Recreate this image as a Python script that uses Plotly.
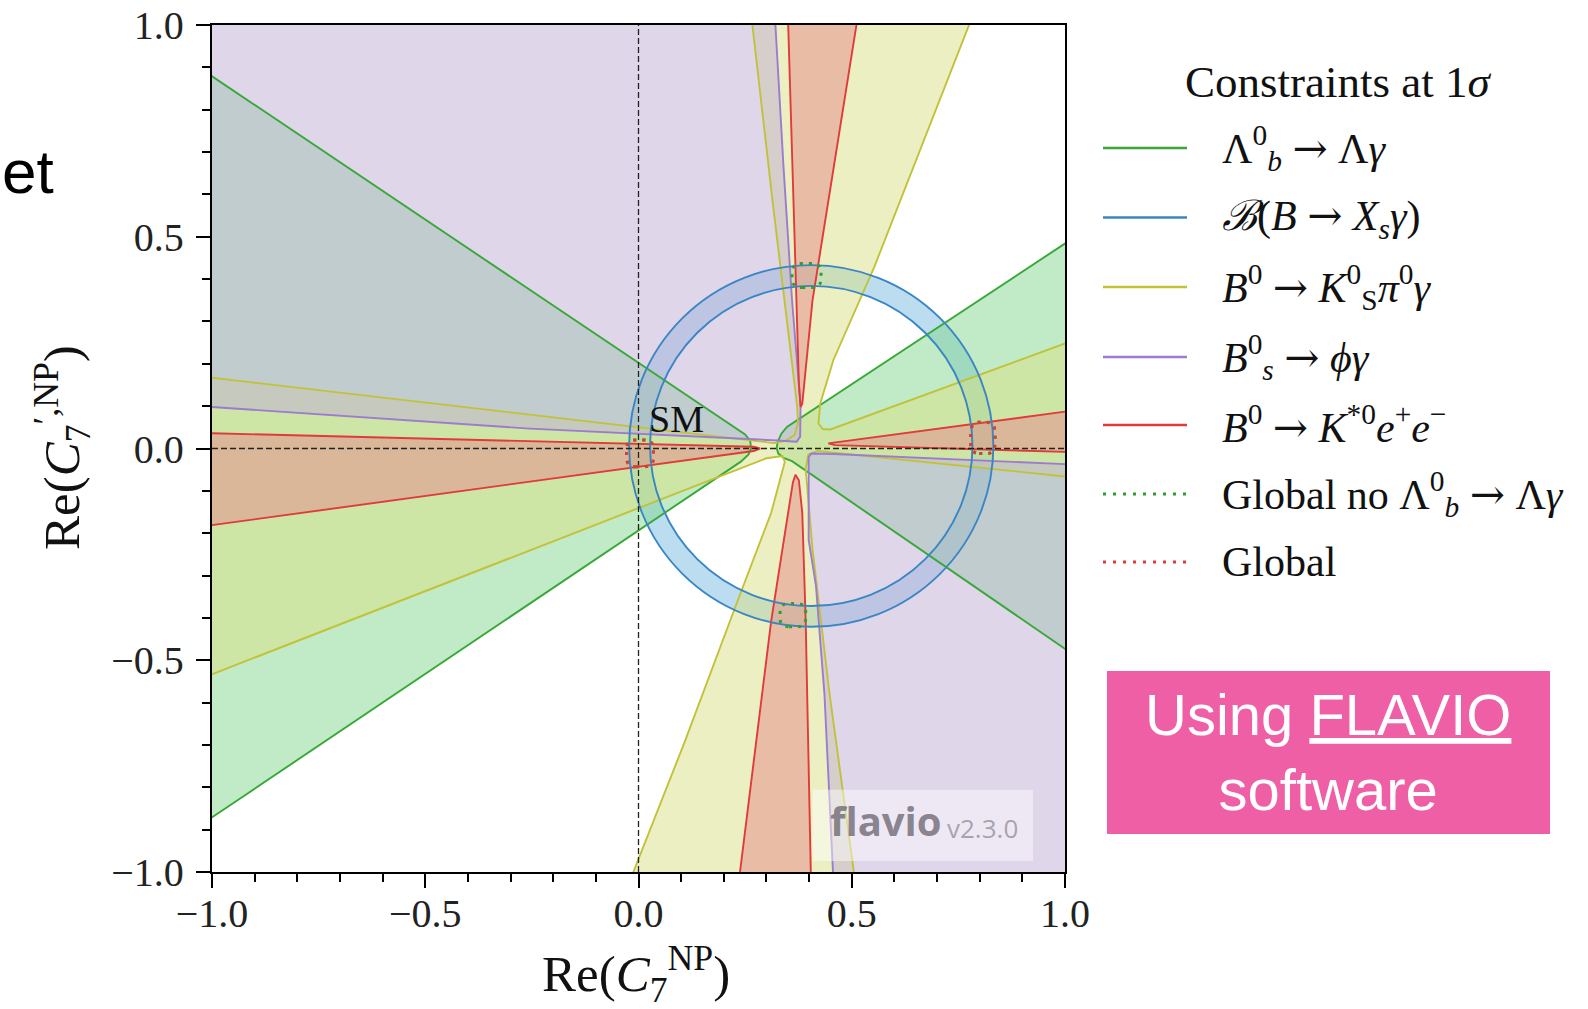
import plotly.graph_objects as go

# ---------------------------------------------------------------- ticks
MAJOR_TICKS = [-1.0, -0.5, 0.0, 0.5, 1.0]
MAJOR_TICK_TEXT = ["−1.0", "−0.5", "0.0", "0.5", "1.0"]
MINOR_TICKS = [-0.9, -0.8, -0.7, -0.6, -0.4, -0.3, -0.2, -0.1,
               0.1, 0.2, 0.3, 0.4, 0.6, 0.7, 0.8, 0.9]

# ------------------------------------------------ 1 sigma contour outlines
# Lambda_b -> Lambda gamma : two cones
LB_LEFT_X = [-1.2, -1.0, 0.25, 0.262, 0.264, 0.258, 0.24, -1.0, -1.2]
LB_LEFT_Y = [0.879, 0.879, 0.033, 0.018, 0.0, -0.014, -0.031, -0.871, -0.871]
LB_RIGHT_X = [1.2, 1.0, 0.348, 0.335, 0.326, 0.324, 0.328, 0.34, 0.36, 1.0, 1.2]
LB_RIGHT_Y = [0.484, 0.484, 0.051, 0.035, 0.015, 0.0, -0.012, -0.022, -0.03, -0.473, -0.473]

# B -> X_s gamma : ring (centre, inner radius, outer radius)
XS_CENTER_X = 0.405
XS_CENTER_Y = 0.006
XS_R_INNER = 0.378
XS_R_OUTER = 0.427

# B0 -> K_S pi0 gamma : four-armed cross
KPI_X = [0.25, 0.267, 0.314, 0.36, 0.372, 0.374, 0.366, 0.345, 0.317, -1.0, -1.2,
         -1.2, -1.0, 0.30, 0.338, 0.343, 0.311, 0.230, 0.109, -0.012, -0.05,
         0.55, 0.505, 0.448, 0.408, 0.392, 0.398, 0.42, 1.0, 1.2,
         1.2, 1.0, 0.45, 0.432, 0.422, 0.426, 0.457, 0.553, 0.775, 0.8]
KPI_Y = [1.2, 1.0, 0.587, 0.19, 0.10, 0.06, 0.032, 0.018, 0.013, 0.167, 0.167,
         -0.533, -0.533, -0.023, -0.018, -0.032, -0.152, -0.366, -0.691, -1.0, -1.2,
         -1.2, -1.0, -0.58, -0.237, -0.049, -0.014, -0.006, -0.066, -0.066,
         0.248, 0.248, 0.045, 0.046, 0.059, 0.106, 0.209, 0.429, 1.0, 1.2]

# Bs -> phi gamma : two wedges
PHI_UL_X = [0.33, 0.321, 0.340, 0.360, 0.380, 0.379, 0.371, 0.325, -0.2545, -1.0, -1.2, -1.2]
PHI_UL_Y = [1.2, 1.0, 0.665, 0.35, 0.102, 0.028, 0.016, 0.019, 0.047, 0.098, 0.098, 1.2]
PHI_LR_X = [0.46, 0.456, 0.436, 0.416, 0.399, 0.399, 0.405, 0.457, 1.0, 1.2, 1.2]
PHI_LR_Y = [-1.2, -1.0, -0.58, -0.323, -0.216, -0.02, -0.012, -0.013, -0.037, -0.037, -1.2]

# B0 -> K*0 e+ e- : four thin wedges
KEE_TOP_X = [0.34, 0.351, 0.368, 0.376, 0.380, 0.384, 0.408, 0.511, 0.52]
KEE_TOP_Y = [1.2, 1.0, 0.429, 0.154, 0.098, 0.106, 0.35, 1.0, 1.2]
KEE_BOT_X = [0.23, 0.238, 0.311, 0.352, 0.362, 0.368, 0.376, 0.384, 0.392, 0.404, 0.41]
KEE_BOT_Y = [-1.2, -1.0, -0.408, -0.152, -0.08, -0.062, -0.075, -0.152, -0.408, -1.0, -1.2]
KEE_LEFT_X = [-1.2, -1.0, 0.27, 0.285, 0.27, -1.0, -1.2]
KEE_LEFT_Y = [0.036, 0.036, 0.004, 0.0, -0.006, -0.181, -0.181]
KEE_RIGHT_X = [0.445, 1.0, 1.2, 1.2, 1.0, 0.46]
KEE_RIGHT_Y = [0.012, 0.087, 0.087, -0.008, -0.008, 0.008]

# global fits: boxes (x0, x1, y0, y1)
GLOBAL_NO_LB_BOXES = [(-0.028, 0.035, -0.043, 0.020),
                      (0.360, 0.428, 0.380, 0.437),
                      (0.332, 0.392, -0.421, -0.366),
                      (0.779, 0.836, -0.012, 0.062)]
GLOBAL_BOXES = [(-0.028, 0.035, -0.043, 0.020),
                (0.779, 0.836, -0.012, 0.062)]

# legend
ARROW = '<span style="font-family:DejaVu Serif">→</span>'
LEGEND_LABELS = [
    f"Λ<sup>0</sup><sub><i>b</i></sub> {ARROW} Λ<i>γ</i>",
    f"<i>ℬ</i>(<i>B</i> {ARROW} <i>X<sub>s</sub>γ</i>)",
    f"<i>B</i><sup>0</sup> {ARROW} <i>K</i><sup>0</sup><sub>S</sub><i>π</i><sup>0</sup><i>γ</i>",
    f"<i>B</i><sup>0</sup><sub><i>s</i></sub> {ARROW} <i>ϕγ</i>",
    f"<i>B</i><sup>0</sup> {ARROW} <i>K</i><sup>*0</sup><i>e</i><sup>+</sup><i>e</i><sup>−</sup>",
    f"Global no Λ<sup>0</sup><sub><i>b</i></sub> {ARROW} Λ<i>γ</i>",
    "Global",
]

# ---------------------------------------------------------------- styles
C_GREEN, F_GREEN = "#38a838", "rgba(129,215,141,0.5)"
C_BLUE, F_BLUE = "#3a86c4", "rgba(121,185,225,0.5)"
C_YELLOW, F_YELLOW = "#c2c23a", "rgba(217,223,131,0.5)"
C_PURPLE, F_PURPLE = "#9c7bd0", "rgba(191,173,213,0.5)"
C_RED, F_RED = "#e03a3a", "rgba(230,137,139,0.5)"
LEGEND_COLORS = [C_GREEN, C_BLUE, C_YELLOW, C_PURPLE, C_RED, "#2ca02c", "#e03a3a"]
LEGEND_DASH = ["solid"] * 5 + ["3px,7px", "3px,7px"]

SERIF = "Liberation Serif, DejaVu Serif, serif"
SANS = "Liberation Sans, Arial, sans-serif"

W, H = 1588, 1009
ML, MR, MT, MB = 212, 523, 25, 137
PW = W - ML - MR
PH = H - MT - MB


def pxx(xp):
    return (xp - ML) / PW


def pxy(yp):
    return (H - MB - yp) / PH


fig = go.Figure()

regions = [
    (C_GREEN, F_GREEN, [(LB_LEFT_X, LB_LEFT_Y), (LB_RIGHT_X, LB_RIGHT_Y)]),
    (C_YELLOW, F_YELLOW, [(KPI_X, KPI_Y)]),
    (C_PURPLE, F_PURPLE, [(PHI_UL_X, PHI_UL_Y), (PHI_LR_X, PHI_LR_Y)]),
    (C_RED, F_RED, [(KEE_TOP_X, KEE_TOP_Y), (KEE_BOT_X, KEE_BOT_Y),
                    (KEE_LEFT_X, KEE_LEFT_Y), (KEE_RIGHT_X, KEE_RIGHT_Y)]),
]
# filled areas first
for line_c, fill_c, pieces in regions:
    for xs, ys in pieces:
        fig.add_trace(go.Scatter(x=xs, y=ys, mode="lines", fill="toself",
                                 fillcolor=fill_c, line=dict(width=0),
                                 hoverinfo="skip", showlegend=False))
# contour lines on top
for line_c, fill_c, pieces in regions:
    for xs, ys in pieces:
        fig.add_trace(go.Scatter(x=list(xs) + [xs[0]], y=list(ys) + [ys[0]],
                                 mode="lines", line=dict(color=line_c, width=1.9),
                                 hoverinfo="skip", showlegend=False))

shapes = []
# ring band (filled by a thick stroke at the mid radius)
r_mid = (XS_R_INNER + XS_R_OUTER) / 2
band_px = (XS_R_OUTER - XS_R_INNER) * PW / 2.0
shapes.append(dict(type="circle", xref="x", yref="y", layer="below",
                   x0=XS_CENTER_X - r_mid, x1=XS_CENTER_X + r_mid,
                   y0=XS_CENTER_Y - r_mid, y1=XS_CENTER_Y + r_mid,
                   line=dict(color=F_BLUE, width=band_px)))
for r in (XS_R_INNER, XS_R_OUTER):
    shapes.append(dict(type="circle", xref="x", yref="y", layer="above",
                       x0=XS_CENTER_X - r, x1=XS_CENTER_X + r,
                       y0=XS_CENTER_Y - r, y1=XS_CENTER_Y + r,
                       line=dict(color=C_BLUE, width=1.9)))

# SM dashed axes
shapes.append(dict(type="line", xref="x", yref="y", layer="above",
                   x0=0, x1=0, y0=-1, y1=1,
                   line=dict(color="#222", width=1.3, dash="6px,3px")))
shapes.append(dict(type="line", xref="x", yref="y", layer="above",
                   x0=-1, x1=1, y0=0, y1=0,
                   line=dict(color="#222", width=1.3, dash="6px,3px")))


def rounded_box(x0, x1, y0, y1):
    cx = (x1 - x0) * 0.35
    cy = (y1 - y0) * 0.35
    return (f"M {x0 + cx},{y0} L {x1 - cx},{y0} Q {x1},{y0} {x1},{y0 + cy} "
            f"L {x1},{y1 - cy} Q {x1},{y1} {x1 - cx},{y1} L {x0 + cx},{y1} "
            f"Q {x0},{y1} {x0},{y1 - cy} L {x0},{y0 + cy} Q {x0},{y0} {x0 + cx},{y0} Z")


for box in GLOBAL_NO_LB_BOXES:
    shapes.append(dict(type="path", xref="x", yref="y", layer="above",
                       path=rounded_box(*box),
                       line=dict(color="#2ca02c", width=3, dash="3px,6px")))
for box in GLOBAL_BOXES:
    shapes.append(dict(type="path", xref="x", yref="y", layer="above",
                       path=rounded_box(*box),
                       line=dict(color="#e03a3a", width=3, dash="3px,6px")))

# flavio watermark box
shapes.append(dict(type="rect", xref="x", yref="y", layer="above",
                   x0=0.408, x1=0.925, y0=-0.974, y1=-0.806,
                   fillcolor="rgba(255,255,255,0.45)", line=dict(width=0)))

# legend samples
ROW_Y = [148, 217.5, 287, 357, 425, 494, 562]
for yrow, col, dash in zip(ROW_Y, LEGEND_COLORS, LEGEND_DASH):
    shapes.append(dict(type="line", xref="paper", yref="paper",
                       x0=pxx(1103), x1=pxx(1187), y0=pxy(yrow), y1=pxy(yrow),
                       line=dict(color=col, width=2.4 if dash == "solid" else 2.8,
                                 dash=dash)))

# pink call-out box
shapes.append(dict(type="rect", xref="paper", yref="paper",
                   x0=pxx(1107), x1=pxx(1550), y0=pxy(834), y1=pxy(671),
                   fillcolor="#ee5fa6", line=dict(width=0)))

annotations = []
annotations.append(dict(xref="paper", yref="paper", x=pxx(1338), y=pxy(82),
                        text="Constraints at 1<i>σ</i>", showarrow=False,
                        xanchor="center", yanchor="middle",
                        font=dict(family=SERIF, size=45, color="#111")))
for yrow, label in zip(ROW_Y, LEGEND_LABELS):
    annotations.append(dict(xref="paper", yref="paper", x=pxx(1220), y=pxy(yrow),
                            text=label, showarrow=False,
                            xanchor="left", yanchor="middle",
                            font=dict(family=SERIF, size=42, color="#111")))

annotations.append(dict(xref="paper", yref="paper", x=pxx(1328), y=pxy(752),
                        text="Using <u>FLAVIO</u><br>software", showarrow=False,
                        xanchor="center", yanchor="middle", align="center",
                        font=dict(family=SANS, size=58, color="white")))

annotations.append(dict(xref="paper", yref="paper", x=pxx(56), y=pxy(172),
                        text="et", showarrow=False,
                        xanchor="right", yanchor="middle",
                        font=dict(family=SANS, size=62, color="black")))

# axis titles
annotations.append(dict(xref="paper", yref="paper", x=pxx(636), y=pxy(974),
                        text="Re(<i>C</i><sub>7</sub><sup>NP</sup>)", showarrow=False,
                        xanchor="center", yanchor="middle",
                        font=dict(family=SERIF, size=51, color="#111")))
annotations.append(dict(xref="paper", yref="paper", x=pxx(62), y=pxy(448),
                        text="Re(<i>C</i><sub>7</sub><sup>′,NP</sup>)", showarrow=False,
                        textangle=-90, xanchor="center", yanchor="middle",
                        font=dict(family=SERIF, size=51, color="#111")))

# SM label
annotations.append(dict(xref="x", yref="y", x=0.02, y=0.069, text="SM",
                        showarrow=False, xanchor="left", yanchor="middle",
                        font=dict(family=SERIF, size=38, color="#111")))

# watermark text
annotations.append(dict(xref="x", yref="y", x=0.444, y=-0.879, text="<b>flavio</b>",
                        showarrow=False, xanchor="left", yanchor="middle",
                        font=dict(family="Open Sans, Liberation Sans, sans-serif",
                                  size=40, color="rgba(110,105,115,0.8)")))
annotations.append(dict(xref="x", yref="y", x=0.719, y=-0.896, text="v2.3.0",
                        showarrow=False, xanchor="left", yanchor="middle",
                        font=dict(family="Open Sans, Liberation Sans, sans-serif",
                                  size=26, color="rgba(120,115,125,0.6)")))

axis_common = dict(
    range=[-1, 1], tickmode="array", tickvals=MAJOR_TICKS, ticktext=MAJOR_TICK_TEXT,
    ticks="outside", ticklen=14, tickwidth=2, tickcolor="black",
    showline=True, linewidth=2.4, linecolor="black", mirror=True,
    showgrid=False, zeroline=False, automargin=False,
    tickfont=dict(family=SERIF, size=40, color="#222"),
    minor=dict(tickmode="array", tickvals=MINOR_TICKS, ticks="outside",
               ticklen=8, tickwidth=1.6, tickcolor="black", showgrid=False),
)

fig.update_layout(
    template="none",
    width=W, height=H,
    margin=dict(l=ML, r=MR, t=MT, b=MB, pad=0),
    paper_bgcolor="white", plot_bgcolor="white",
    xaxis=dict(**axis_common, ticklabelstandoff=-9),
    yaxis=dict(**axis_common, ticklabelstandoff=4),
    shapes=shapes, annotations=annotations,
    showlegend=False,
)

fig.write_html("out.html")
